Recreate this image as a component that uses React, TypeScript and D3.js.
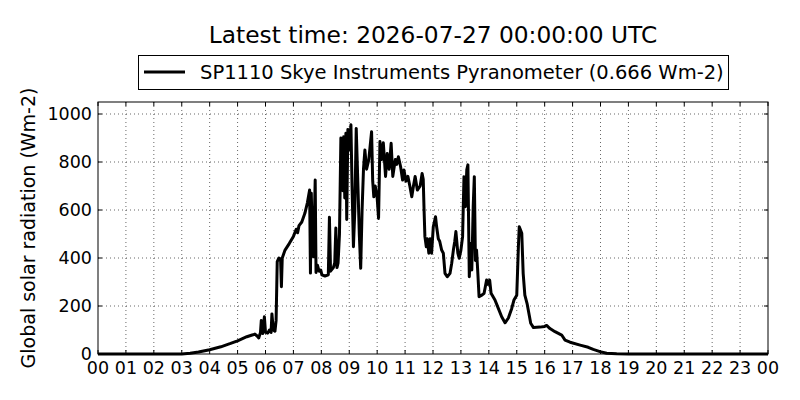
import * as d3 from "d3";

// hours since 00 UTC and global radiation (W m-2)
const times = [
  0, 3.0, 3.3, 3.6, 4.0, 4.4, 4.75, 5.0, 5.33, 5.55, 5.62, 5.7, 5.76, 5.82, 5.85, 5.9, 5.96, 6.0,
  6.08, 6.14, 6.2, 6.23, 6.28, 6.34, 6.38, 6.42, 6.48, 6.54, 6.57, 6.6, 6.7, 6.85, 7.0, 7.1, 7.15,
  7.2, 7.3, 7.41, 7.5, 7.58, 7.61, 7.64, 7.69, 7.72, 7.78, 7.81, 7.86, 7.92, 7.98, 8.02, 8.13,
  8.25, 8.29, 8.33, 8.43, 8.48, 8.52, 8.56, 8.6, 8.65, 8.7, 8.74, 8.77, 8.8, 8.84, 8.88, 8.91,
  8.95, 9.0, 9.06, 9.1, 9.15, 9.2, 9.25, 9.3, 9.36, 9.41, 9.46, 9.51, 9.56, 9.62, 9.7, 9.8, 9.84,
  9.88, 9.93, 10.0, 10.05, 10.1, 10.16, 10.22, 10.3, 10.36, 10.43, 10.5, 10.56, 10.65, 10.7,
  10.76, 10.84, 10.91, 10.96, 11.03, 11.1, 11.17, 11.24, 11.3, 11.36, 11.44, 11.54, 11.61, 11.65,
  11.68, 11.71, 11.76, 11.8, 11.85, 11.9, 11.95, 12.01, 12.09, 12.13, 12.19, 12.24, 12.31, 12.37,
  12.43, 12.51, 12.61, 12.67, 12.73, 12.78, 12.82, 12.89, 12.94, 13.0, 13.06, 13.11, 13.16, 13.21,
  13.25, 13.3, 13.35, 13.39, 13.44, 13.48, 13.52, 13.56, 13.6, 13.65, 13.75, 13.83, 13.92, 13.97,
  14.03, 14.08, 14.22, 14.34, 14.46, 14.58, 14.7, 14.82, 14.9, 15.0, 15.06, 15.09, 15.14, 15.18,
  15.23, 15.29, 15.37, 15.5, 15.6, 15.83, 16.0, 16.07, 16.19, 16.37, 16.61, 16.73, 16.91, 17.27,
  17.56, 17.74, 17.98, 18.22, 18.58, 19.0, 24,
];
const radiation = [
  0, 0, 3, 8, 18, 30, 44, 55, 72, 80, 83, 75, 67, 90, 140, 85, 155, 90,
  87, 100, 90, 167, 100, 95, 140, 385, 400, 395, 280, 400, 433, 460, 490, 520, 505,
  535, 550, 586, 630, 683, 337, 670, 420, 405, 725, 340, 370, 345, 350, 330, 325,
  330, 570, 345, 360, 380, 525, 360, 380, 500, 900, 880, 680, 905, 650, 920, 560,
  935, 850, 955, 700, 447, 600, 940, 745, 500, 357, 600, 770, 850, 770, 810, 926, 720,
  655, 700, 650, 565, 885, 810, 880, 740, 835, 770, 878, 740, 810, 790,
  822, 780, 725, 767, 720, 740, 700, 655, 700, 740, 683, 700, 752, 728,
  600, 489, 447, 480, 420, 480, 420, 530, 572, 530, 480, 470, 433, 420,
  336, 322, 336, 378, 433, 470, 510, 420, 399, 433, 489, 739, 614, 767,
  788, 322, 460, 350, 614, 739, 390, 433, 350, 239, 245, 253, 308, 290,
  308, 253, 225, 190, 155, 130, 150, 190, 225, 245, 450, 530, 515, 503,
  336, 245, 210, 128, 110, 112, 115, 119, 106, 93, 79, 58, 49, 37,
  28, 19, 10, 3, 1, 0, 0,
];

const hourTicks = d3.range(0, 25);
const hourLabels = hourTicks.map((h) => String(h % 24).padStart(2, "0"));
const valueTicks = [0, 200, 400, 600, 800, 1000];

const title = "Latest time: 2026-07-27 00:00:00 UTC";
const seriesName = "SP1110 Skye Instruments Pyranometer (0.666 Wm-2)";
const yTitle = "Global solar radiation (Wm-2)";

const font = "DejaVu Sans, sans-serif";

export default function App() {
  const left = 98;
  const right = 768;
  const top = 102;
  const bottom = 354;

  const x = d3.scaleLinear().domain([0, 24]).range([left, right]);
  const y = d3.scaleLinear().domain([0, 1050]).range([bottom, top]);

  const line = d3
    .line<number>()
    .x((_, i) => x(times[i]))
    .y((d) => y(d));

  return (
    <svg
      width={800}
      height={400}
      style={{ position: "absolute", left: 0, top: 0, background: "#fff" }}
      fontFamily={font}
    >
      <rect width={800} height={400} fill="#fff" />
      <text x={433} y={42.5} fontSize={23.3} textAnchor="middle" fill="#000">
        {title}
      </text>

      {/* legend */}
      <rect x={138.5} y={55.5} width={590} height={34} fill="#fff" stroke="#000" strokeWidth={1} />
      <line x1={144} x2={185} y1={72} y2={72} stroke="#000" strokeWidth={3} />
      <text x={200} y={79} fontSize={19.5} fill="#000">
        {seriesName}
      </text>

      {/* grid */}
      <g stroke="#000" strokeWidth={0.6} strokeDasharray="1,3">
        {hourTicks.slice(1, -1).map((h) => (
          <line key={`gx${h}`} x1={x(h)} x2={x(h)} y1={top} y2={bottom} />
        ))}
        {valueTicks.slice(1).map((v) => (
          <line key={`gy${v}`} x1={left} x2={right} y1={y(v)} y2={y(v)} />
        ))}
      </g>

      {/* data */}
      <path
        d={line(radiation) ?? ""}
        fill="none"
        stroke="#000"
        strokeWidth={3}
        strokeLinejoin="round"
      />

      {/* ticks, inward on all four sides */}
      <g stroke="#000" strokeWidth={1}>
        {hourTicks.map((h) => (
          <g key={`tx${h}`}>
            <line x1={x(h)} x2={x(h)} y1={bottom} y2={bottom - 4} />
            <line x1={x(h)} x2={x(h)} y1={top} y2={top + 4} />
          </g>
        ))}
        {valueTicks.map((v) => (
          <g key={`ty${v}`}>
            <line x1={left} x2={left + 4} y1={y(v)} y2={y(v)} />
            <line x1={right} x2={right - 4} y1={y(v)} y2={y(v)} />
          </g>
        ))}
      </g>
      <rect
        x={left}
        y={top}
        width={right - left}
        height={bottom - top}
        fill="none"
        stroke="#000"
        strokeWidth={1}
      />

      {/* tick labels */}
      <g fontSize={17.5} fill="#000">
        {hourTicks.map((h, i) => (
          <text key={`lx${h}`} x={x(h)} y={374} textAnchor="middle">
            {hourLabels[i]}
          </text>
        ))}
        {valueTicks.map((v) => (
          <text key={`ly${v}`} x={92} y={y(v)} dy="0.36em" textAnchor="end">
            {v}
          </text>
        ))}
      </g>

      <text
        transform={`translate(35,${(top + bottom) / 2}) rotate(-90)`}
        fontSize={19}
        textAnchor="middle"
        fill="#000"
      >
        {yTitle}
      </text>
    </svg>
  );
}
